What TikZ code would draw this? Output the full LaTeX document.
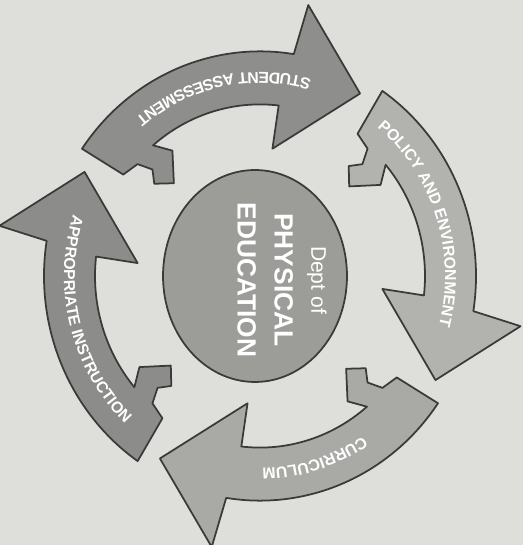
\documentclass[tikz,border=0pt]{standalone}
\usepackage{fontspec}
\setmainfont{Liberation Sans}
\usepackage{xcolor}
\usepackage{tikz}
\usetikzlibrary{calc, shapes.geometric, decorations.text}
\definecolor{paper}{HTML}{DEDEDA}
\definecolor{inkline}{HTML}{3A3A3A}
\definecolor{arrowA}{HTML}{8E8E8C}
\definecolor{arrowB}{HTML}{B2B2AE}
\definecolor{arrowC}{HTML}{A9A9A5}
\definecolor{arrowD}{HTML}{8C8C8A}
\definecolor{hubfill}{HTML}{9C9C98}
\newcommand{\cyclefont}{\fontsize{9}{9}\selectfont\bfseries}

\tikzset{
  arrowbody/.style={draw=inkline, line width=1pt, line join=round},
  hub/.style={ellipse, draw=inkline, line width=1pt, fill=hubfill,
              minimum width=3.68cm, minimum height=4.24cm, inner sep=0pt},
  hubtext/.style={rotate=-90, align=center, text=white, inner sep=0pt,
                  font=\fontsize{15}{21}\selectfont\bfseries}
}

\begin{document}
\begin{tikzpicture}[x=0.02cm, y=0.02cm]
    \path[use as bounding box, fill=paper] (0,0) rectangle (523,545);
    \coordinate (ring) at (260,269);

    % four curved arrows, turned by 90 degrees each
    \foreach \k/\tone/\txt/\angA/\angB/\rad in {
        0/arrowA/{STUDENT ASSESSMENT}/62/142/196,
        1/arrowB/{POLICY AND ENVIRONMENT}/148/68/185,
        2/arrowC/{CURRICULUM}/147/67/185,
        3/arrowD/{APPROPRIATE INSTRUCTION}/64.5/144.5/196}{
      \begin{scope}[shift={(ring)}, yscale=1.04, rotate=-90*\k]
        \draw[arrowbody, fill=\tone] (145.5:216) arc[start angle=145.5, end angle=81, radius=216]
          -- (79.5:265) -- (60.3:202) -- (84.2:123) -- (83.5:165)
          arc[start angle=83.5, end angle=130.4, radius=165]
          -- (126:149) -- (134:124) -- (140:138) -- (136.4:148.5)
          -- (138.7:163) -- (144.5:168) -- cycle;
        \cyclefont
        \path[decorate, decoration={text along path, text/.expand once=\txt,
                text align=center, text color=white}]
          (\angA:\rad) arc[start angle=\angA, end angle=\angB, radius=\rad];
      \end{scope}
    }

    \node[hub] (hub) at (255,269) {};
    \node[hubtext] (title) at ($(hub.center)+(27,-4)$)
      {{\normalfont\fontsize{12}{21}\selectfont Dept of}\\PHYSICAL\\EDUCATION};
\end{tikzpicture}
\end{document}
